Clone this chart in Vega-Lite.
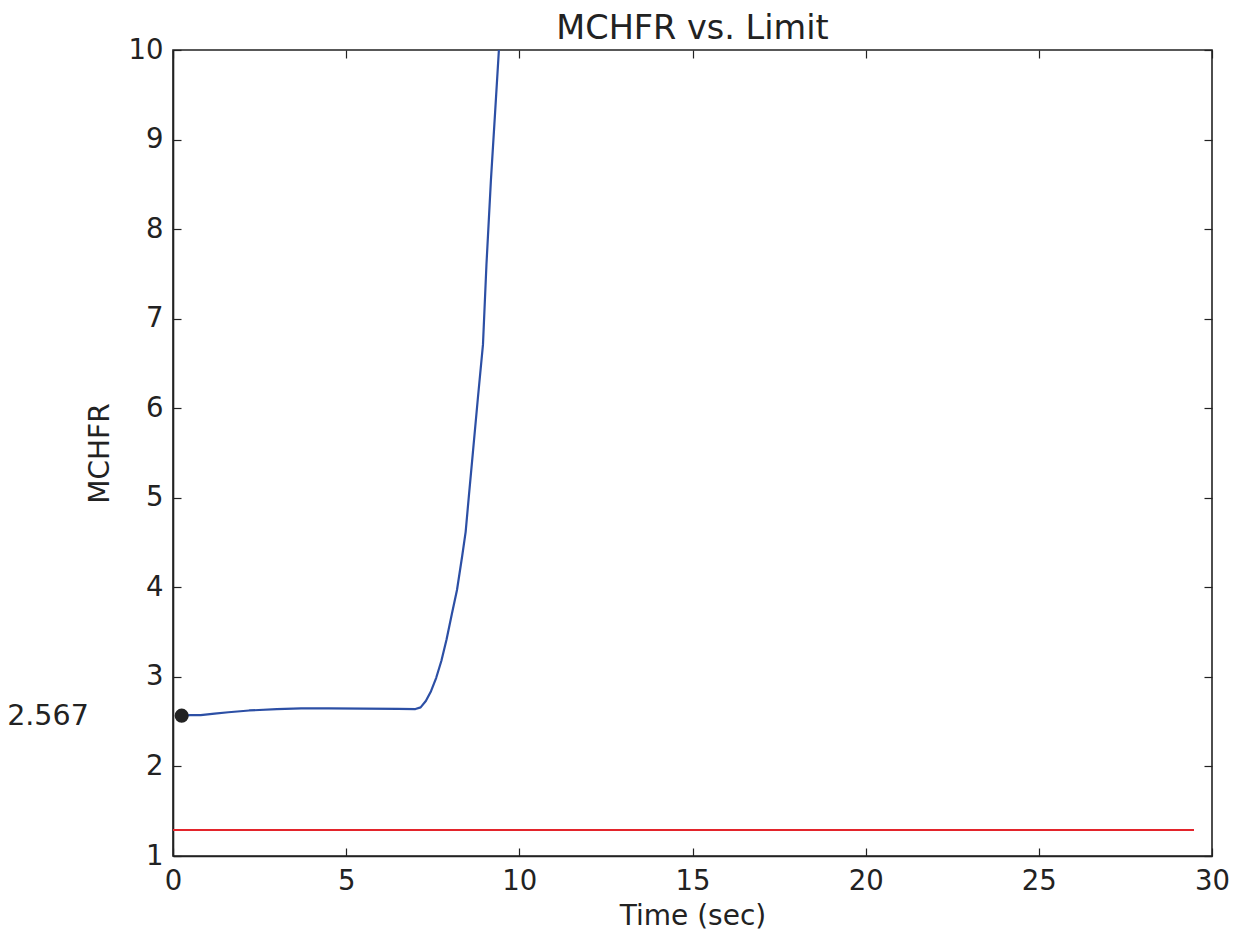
{
  "$schema": "https://vega.github.io/schema/vega-lite/v6.json",
  "width": 1039,
  "height": 806,
  "autosize": {"type": "none"},
  "padding": {"left": 173, "top": 50, "right": 24, "bottom": 84},
  "background": "white",
  "title": {"text": "MCHFR vs. Limit", "fontSize": 33.5, "font": "DejaVu Sans", "fontWeight": "normal", "color": "#222222", "offset": -10},
  "config": {
    "font": "DejaVu Sans",
    "view": {"stroke": "#222222", "strokeWidth": 1.6},
    "axis": {"grid": false, "domainColor": "#222222", "domainWidth": 1.6, "tickColor": "#222222", "tickWidth": 1.2, "labelColor": "#222222", "titleColor": "#222222", "labelFont": "DejaVu Sans", "titleFont": "DejaVu Sans", "labelFontSize": 27.5, "titleFontSize": 28, "titleFontWeight": "normal"}
  },
  "datasets": {
    "mchfr": [
      {"t": 0.25, "v": 2.567}, {"t": 0.5, "v": 2.572}, {"t": 0.8, "v": 2.574}, {"t": 1.2, "v": 2.59},
      {"t": 1.6, "v": 2.605}, {"t": 2.2, "v": 2.625}, {"t": 3.0, "v": 2.64}, {"t": 3.7, "v": 2.648},
      {"t": 4.5, "v": 2.648}, {"t": 5.5, "v": 2.645}, {"t": 6.5, "v": 2.642}, {"t": 7.0, "v": 2.641},
      {"t": 7.15, "v": 2.66}, {"t": 7.3, "v": 2.73}, {"t": 7.45, "v": 2.84}, {"t": 7.6, "v": 2.99},
      {"t": 7.75, "v": 3.18}, {"t": 7.9, "v": 3.42}, {"t": 8.05, "v": 3.7}, {"t": 8.2, "v": 3.97},
      {"t": 8.35, "v": 4.35}, {"t": 8.45, "v": 4.62}, {"t": 8.55, "v": 5.05}, {"t": 8.66, "v": 5.51},
      {"t": 8.8, "v": 6.1}, {"t": 8.95, "v": 6.71}, {"t": 9.05, "v": 7.6}, {"t": 9.18, "v": 8.55},
      {"t": 9.3, "v": 9.3}, {"t": 9.41, "v": 10.0}, {"t": 9.5, "v": 10.6}
    ],
    "limit": [{"t": 0, "v": 1.29}, {"t": 29.48, "v": 1.29}],
    "marker": [{"t": 0.25, "v": 2.567, "label": "2.567", "lx": -3.61}]
  },
  "resolve": {"axis": {"x": "independent", "y": "independent"}},
  "layer": [
    {
      "data": {"name": "limit"},
      "mark": {"type": "line", "color": "#e3242b", "strokeWidth": 2},
      "encoding": {
        "x": {"field": "t", "type": "quantitative", "scale": {"domain": [0, 30], "nice": false, "zero": false},
              "axis": {"orient": "bottom", "values": [0, 5, 10, 15, 20, 25, 30], "tickSize": -8, "labelPadding": 19, "title": "Time (sec)", "titlePadding": 8, "labelFlush": false}},
        "y": {"field": "v", "type": "quantitative", "scale": {"domain": [1, 10], "nice": false, "zero": false},
              "axis": {"orient": "left", "values": [1, 2, 3, 4, 5, 6, 7, 8, 9, 10], "tickSize": -8, "labelPadding": 18, "title": "MCHFR", "titlePadding": 14, "labelFlush": false}}
      }
    },
    {
      "data": {"name": "mchfr"},
      "mark": {"type": "line", "color": "#2c4fa5", "strokeWidth": 2.2, "clip": true, "strokeJoin": "round"},
      "encoding": {
        "x": {"field": "t", "type": "quantitative", "axis": {"orient": "top", "values": [0, 5, 10, 15, 20, 25, 30], "tickSize": -8, "labels": false, "title": null, "domain": false}},
        "y": {"field": "v", "type": "quantitative", "axis": {"orient": "right", "values": [1, 2, 3, 4, 5, 6, 7, 8, 9, 10], "tickSize": -8, "labels": false, "title": null, "domain": false}}
      }
    },
    {
      "data": {"name": "marker"},
      "mark": {"type": "point", "filled": true, "color": "#222222", "size": 200, "opacity": 1},
      "encoding": {
        "x": {"field": "t", "type": "quantitative", "axis": null},
        "y": {"field": "v", "type": "quantitative", "axis": null}
      }
    },
    {
      "data": {"name": "marker"},
      "mark": {"type": "text", "fontSize": 28.5, "font": "DejaVu Sans", "color": "#222222", "align": "center", "baseline": "middle"},
      "encoding": {
        "x": {"field": "lx", "type": "quantitative", "axis": null},
        "y": {"field": "v", "type": "quantitative", "axis": null},
        "text": {"field": "label"}
      }
    }
  ]
}
